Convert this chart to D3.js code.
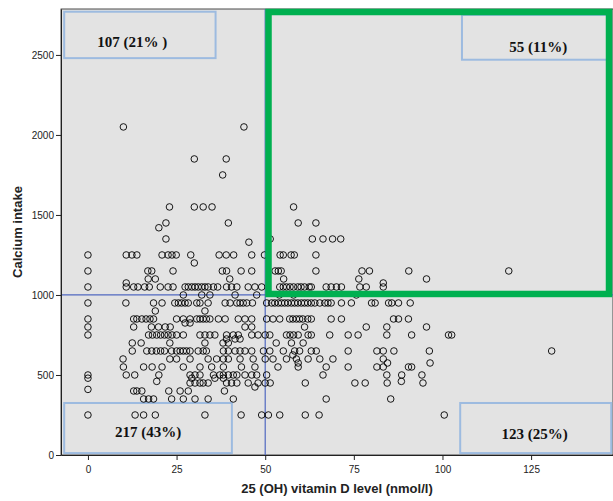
<!DOCTYPE html>
<html>
<head>
<meta charset="utf-8">
<script src="https://cdn.jsdelivr.net/npm/d3@7"></script>
<style>
body { margin: 0; background: #fff; }
</style>
</head>
<body>
<div id="scatter"></div>
<script>
// calcium intake level -> vitamin D values (nmol/l) read at that level
const intakeRows = [
  [2050, [10, 44]],
  [1850, [30, 39]],
  [1750, [38]],
  [1550, [23, 30, 32.5, 35, 58]],
  [1450, [22, 39.6, 59.3, 64.3]],
  [1420, [20]],
  [1350, [22, 51.4, 63.3, 66.3, 69, 71.3]],
  [1330, [45.4]],
  [1250, [0, 10.8, 12.4, 13.8, 20.9, 22.6, 23.7, 24.9, 29, 37, 39, 41.1, 46.2, 49.8, 54.2, 55.1, 57.3, 58.2, 64.3]],
  [1200, [30]],
  [1150, [0, 16.9, 18, 24, 37.9, 39.1, 43.2, 46.2, 52.8, 53.7, 54.5, 64.3, 77.3, 79.4, 90.5, 118.7]],
  [1100, [17, 19, 40, 55.2, 76.4, 95.5]],
  [1075, [10.8, 83.3]],
  [1050, [0, 10.8, 12.9, 14.1, 16, 17.3, 20.4, 22.6, 24, 27.4, 28.3, 29.3, 30.2, 31.1, 32.1, 33, 33.9, 35.4, 36.6, 39.1, 40.5, 42, 45.2, 47.1, 49, 54.1, 55.1, 56, 57, 58, 59.2, 60.1, 61.1, 62.4, 63, 67.2, 68.6, 70.1, 71.5, 76.7, 78.5, 83.3]],
  [1000, [26.9, 32.1, 34.4, 41.5, 47.6, 54, 58, 75.7]],
  [950, [0, 10.7, 18.5, 20.9, 24.5, 25.5, 26.4, 27.4, 28.3, 30.7, 31.6, 33.9, 38.7, 40.1, 42, 42.9, 43.8, 44.8, 46.4, 50.4, 51.8, 52.7, 53.7, 54.6, 55.5, 56.4, 57.4, 58.3, 59.2, 60.2, 61.1, 62, 63, 64, 65.4, 66.8, 67.7, 68.6, 71.5, 74.3, 80, 81, 84.8, 85.7, 87.6, 90.9]],
  [900, [19, 33]],
  [850, [0, 12.9, 13.8, 15.2, 16.4, 17.5, 18.5, 25, 26.9, 28.8, 30.7, 31.6, 32.5, 33.4, 34.4, 36.8, 38.7, 42.4, 44.3, 46.2, 50.4, 52.2, 54.1, 56.9, 57.8, 58.8, 59.7, 60.6, 62, 63, 68.6, 71.5, 86.2, 87.6, 90.4]],
  [825, [27.4, 28.8]],
  [800, [0, 12.9, 17.9, 19.9, 21.8, 23.2, 44.3, 46.2, 61.1, 78.5, 84.3, 95.5]],
  [750, [0, 17.1, 18.2, 19.4, 20.5, 21.6, 22.6, 23.7, 25, 26.9, 31.6, 33, 34.4, 35.8, 39.1, 41, 42.4, 46.2, 48, 50, 51.3, 56, 57, 58, 59.3, 62.1, 63, 68.2, 73.4, 76.2, 84.3, 91.3, 101.7, 102.6]],
  [725, [39.1, 41.5, 42.9]],
  [700, [12.5, 15, 23.1, 33, 38.1, 39.6, 53.1, 57.4, 60.7]],
  [650, [12.5, 16.6, 18, 19.3, 20.5, 21.6, 23.6, 25, 26, 26.9, 27.8, 28.8, 31.1, 32.5, 33.4, 38.2, 39.6, 41.5, 42.9, 44.3, 46.2, 49.5, 51.3, 55.1, 58.3, 59.7, 63, 64.4, 73.4, 81.5, 83.3, 86.3, 96.3, 130.8]],
  [625, [57.8]],
  [600, [9.9, 23.1, 25, 28.8, 33.9, 36.3, 38.2, 39.6, 42.9, 46.6, 50, 52.2, 56, 58.8, 62.1, 65.4, 69.1, 83.3]],
  [575, [59.3, 84.5, 96.5]],
  [550, [10, 15.7, 18.1, 20.9, 26.9, 31.6, 34.9, 38.2, 43.3, 47.1, 53.6, 59.3, 67.2, 73.4, 81.5, 83.3, 90.4, 91.3]],
  [500, [0, 10.8, 13.2, 20, 28.8, 30.2, 31.6, 35.4, 37.2, 38.2, 39.6, 41, 42, 44.3, 46.2, 47.6, 50.4, 66.3, 84.3, 88.5, 94.2]],
  [480, [0, 29.3, 35.8, 38.2]],
  [460, [19.4, 88.4]],
  [450, [28.8, 30.2, 31.6, 32.5, 33.9, 39.1, 40.5, 42, 45.2, 48, 50, 51.4, 61.3, 75.3, 78.2, 84.4, 94.5]],
  [425, [47.1]],
  [410, [0]],
  [400, [12.9, 13.8, 15.2, 22.8, 26, 28.3, 38.5]],
  [350, [15.7, 17.1, 18.5, 23.6, 26.9, 30.2, 33.9, 41, 67.2, 85.4]],
  [250, [0, 13.3, 15.7, 19, 33, 43.2, 49, 50.9, 54.1, 61.3, 65.2, 100.5]]
]

const xTicks = [0, 25, 50, 75, 100, 125]
const yTicks = [0, 500, 1000, 1500, 2000, 2500]

// quadrant counts: top-left, top-right, bottom-left, bottom-right
const quadCounts = [107, 55, 217, 123]
const quadLabels = ["107 (21% )", "55 (11%)", "217 (43%)", "123 (25%)"]

const cutVitD = 50
const cutCalcium = 1000

let points = intakeRows.flatMap(([ca, vals]) => vals.map(v => ({vitD: v, calcium: ca})))

let xScale = d3.scaleLinear()
    .domain([-7.6, 148.1])
    .range([61, 613])

let yScale = d3.scaleLinear()
    .domain([0, 2787])
    .range([455, 9])

let svg = d3.select('#scatter')
    .append('svg')
    .attr('width', 613)
    .attr('height', 501)
    .style('font-family', 'Arial, "Liberation Sans", sans-serif')

// plot background
svg.append('rect')
    .attr('x', xScale.range()[0])
    .attr('y', yScale.range()[1])
    .attr('width', xScale.range()[1] - xScale.range()[0])
    .attr('height', yScale.range()[0] - yScale.range()[1])
    .attr('fill', '#e3e3e3')
    .attr('stroke', '#222')
    .attr('stroke-width', 0.8)

// quadrant boxes
let boxes = [
    {x0: -6.7, x1: 36, y0: 2480, y1: 2770},
    {x0: 105.5, x1: 147.3, y0: 2470, y1: 2750},
    {x0: -6.7, x1: 40.6, y0: 12, y1: 325},
    {x0: 105, x1: 147.6, y0: 12, y1: 325}
]
let boxText = [
    {x: 12.5, y: 2550},
    {x: 127, y: 2520},
    {x: 17, y: 110},
    {x: 126, y: 100}
]

svg.append('g')
    .selectAll('rect')
    .data(boxes)
    .join('rect')
    .attr('x', d => xScale(d.x0))
    .attr('y', d => yScale(d.y1))
    .attr('width', d => xScale(d.x1) - xScale(d.x0))
    .attr('height', d => yScale(d.y0) - yScale(d.y1))
    .attr('fill', 'none')
    .attr('stroke', '#9dbbe0')
    .attr('stroke-width', 2)

// reference lines
svg.append('line')
    .attr('x1', xScale(cutVitD)).attr('x2', xScale(cutVitD))
    .attr('y1', yScale.range()[0]).attr('y2', yScale.range()[1])
    .attr('stroke', '#5068c0')
    .attr('stroke-width', 1.2)

svg.append('line')
    .attr('x1', xScale.range()[0]).attr('x2', xScale.range()[1])
    .attr('y1', yScale(cutCalcium)).attr('y2', yScale(cutCalcium))
    .attr('stroke', '#5068c0')
    .attr('stroke-width', 1.2)

// points
svg.append('g')
    .selectAll('circle')
    .data(points)
    .join('circle')
    .attr('cx', d => xScale(d.vitD))
    .attr('cy', d => yScale(d.calcium))
    .attr('r', 3.3)
    .attr('fill', 'none')
    .attr('stroke', '#000')
    .attr('stroke-width', 0.9)

// green highlight of the high-high quadrant
svg.append('rect')
    .attr('x', xScale(cutVitD) + 3.3)
    .attr('y', 12)
    .attr('width', 609 - xScale(cutVitD) - 3.3)
    .attr('height', yScale(cutCalcium) - 1 - 12)
    .attr('fill', 'none')
    .attr('stroke', '#00b050')
    .attr('stroke-width', 6.5)

svg.append('g')
    .selectAll('text')
    .data(quadLabels)
    .join('text')
    .attr('x', (d, i) => xScale(boxText[i].x))
    .attr('y', (d, i) => yScale(boxText[i].y))
    .attr('text-anchor', 'middle')
    .attr('font-family', '"Liberation Serif", "Times New Roman", serif')
    .attr('font-weight', 'bold')
    .attr('font-size', '15px')
    .attr('fill', '#111')
    .text(d => d)

// axes
let xAxis = svg.append('g')
    .attr('transform', `translate(0,${yScale.range()[0]})`)
    .call(d3.axisBottom(xScale).tickValues(xTicks).tickSize(5).tickSizeOuter(0).tickPadding(6))

let yAxis = svg.append('g')
    .attr('transform', `translate(${xScale.range()[0]},0)`)
    .call(d3.axisLeft(yScale).tickValues(yTicks).tickFormat(d3.format('d')).tickSize(5).tickSizeOuter(0).tickPadding(2))

svg.selectAll('.tick text')
    .attr('font-family', 'Arial, "Liberation Sans", sans-serif')
    .attr('font-size', '10px')
    .attr('fill', '#222')
svg.selectAll('.domain, .tick line').attr('stroke', '#222')

svg.append('text')
    .attr('x', 337)
    .attr('y', 493)
    .attr('text-anchor', 'middle')
    .attr('font-weight', 'bold')
    .attr('font-size', '13px')
    .attr('fill', '#222')
    .text('25 (OH) vitamin D level (nmol/l)')

svg.append('text')
    .attr('transform', 'translate(22,232) rotate(-90)')
    .attr('text-anchor', 'middle')
    .attr('font-weight', 'bold')
    .attr('font-size', '13px')
    .attr('fill', '#222')
    .text('Calcium intake')
</script>
</body>
</html>
